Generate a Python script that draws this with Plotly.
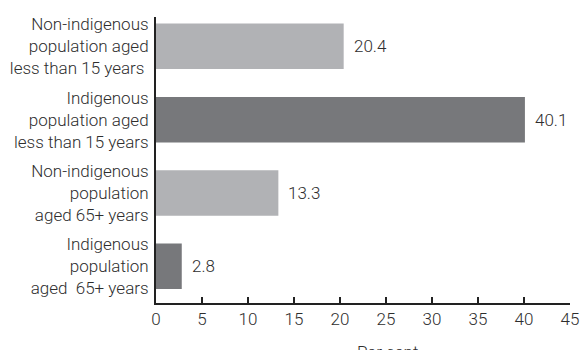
import plotly.graph_objects as go

categories = [
    "Indigenous<br>population<br>aged  65+ years",
    "Non-indigenous<br>population<br>aged 65+ years",
    "Indigenous<br>population aged<br>less than 15 years",
    "Non-indigenous<br>population aged<br>less than 15 years ",
]
values = [2.8, 13.3, 40.1, 20.4]
value_labels = ["2.8", "13.3", "40.1", "20.4"]
colors = ["#77787b", "#b1b2b5", "#77787b", "#b1b2b5"]
x_ticks = [0, 5, 10, 15, 20, 25, 30, 35, 40, 45]

font_family = "Roboto, Liberation Sans, Arial, sans-serif"
font_weight = 300
text_color = "#2e2e2e"

fig = go.Figure()
fig.add_trace(go.Bar(
    x=values,
    y=categories,
    orientation="h",
    marker=dict(color=colors, line=dict(width=0)),
    width=0.62,
    hoverinfo="skip",
))

for v, c, lab in zip(values, categories, value_labels):
    fig.add_annotation(
        x=v, y=c, text=lab, showarrow=False,
        xanchor="left", yanchor="middle", xshift=8,
        font=dict(size=17, color=text_color, family=font_family, weight=font_weight),
    )

fig.add_annotation(
    x=0.56, y=0, xref="paper", yref="paper", yshift=-37,
    text="Per cent", showarrow=False, xanchor="center", yanchor="top",
    font=dict(size=17, color=text_color, family=font_family, weight=font_weight),
)

fig.update_layout(
    width=580, height=350,
    margin=dict(l=156, r=10, t=17, b=47),
    paper_bgcolor="white", plot_bgcolor="white",
    showlegend=False,
    font=dict(family=font_family, size=17, color=text_color, weight=font_weight),
    xaxis=dict(
        range=[0, 45], tickvals=x_ticks, ticks="inside", ticklen=6,
        tickwidth=2, tickcolor="#222222",
        showline=True, linecolor="#222222", linewidth=2,
        showgrid=False, zeroline=False, automargin=False,
        tickfont=dict(size=17, color=text_color, family=font_family, weight=font_weight),
    ),
    yaxis=dict(
        type="category", range=[-0.5, 3.4],
        showline=True, linecolor="#222222", linewidth=2,
        ticks="", showgrid=False, zeroline=False, automargin=False,
        ticklabelstandoff=2,
        tickfont=dict(size=17, color=text_color, family=font_family, weight=font_weight),
    ),
)

fig.write_html("out.html")
